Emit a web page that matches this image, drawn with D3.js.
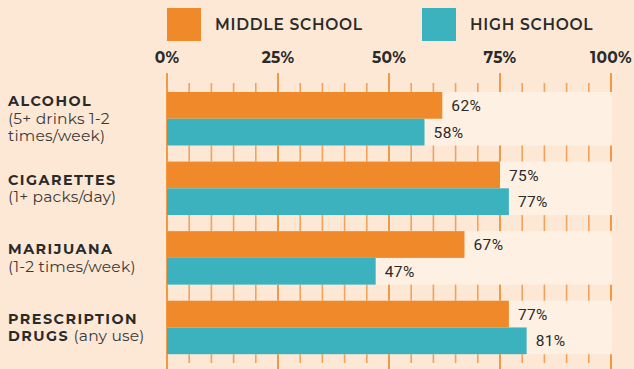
<!DOCTYPE html>
<html>
<head>
<meta charset="utf-8">
<script src="https://cdn.jsdelivr.net/npm/d3@7"></script>
<style>
  html, body { margin: 0; padding: 0; background: #FDE8D6; }
  svg { display: block; }
</style>
</head>
<body>
<svg id="chart" width="634" height="369"></svg>
<script>
// Substances surveyed and the share of students who perceive great risk.
const categories = ["alcohol", "cigarettes", "marijuana", "prescription"];
const categoryLines = [
  [[["ALCOHOL", true]], [["(5+ drinks 1-2", false]], [["times/week)", false]]],
  [[["CIGARETTES", true]], [["(1+ packs/day)", false]]],
  [[["MARIJUANA", true]], [["(1-2 times/week)", false]]],
  [[["PRESCRIPTION", true]], [["DRUGS", true], [" (any use)", false]]]
];
const seriesNames = ["MIDDLE SCHOOL", "HIGH SCHOOL"];
const middleSchool = [62, 75, 67, 77];
const highSchool = [58, 77, 47, 81];
const axisTicks = [0, 25, 50, 75, 100];
const gridTicks = d3.range(0, 101, 5);

const colors = { "MIDDLE SCHOOL": "#F0892A", "HIGH SCHOOL": "#3DB2BF" };
const ink = "#2A2A2A";
const labelFont = "Montserrat, 'Open Sans', 'DejaVu Sans', sans-serif";
const valueFont = "Roboto, 'DejaVu Sans', sans-serif";

const svg = d3.select("#chart");

const x = d3.scaleLinear().domain([0, 100]).range([167, 611]);
const y = d3.scaleBand().domain(categories).range([92, 354.2]).paddingInner(0.231).paddingOuter(0);
const ySub = d3.scaleBand().domain(seriesNames).range([0, y.bandwidth()]);

// Legend
const legend = svg.append("g");
const legendX = [167, 422];
seriesNames.forEach((name, i) => {
  legend.append("rect")
    .attr("x", legendX[i]).attr("y", 8)
    .attr("width", 34).attr("height", 33)
    .attr("fill", colors[name]);
  legend.append("text")
    .attr("x", legendX[i] + 48).attr("y", 29.5)
    .attr("font-family", labelFont).attr("font-size", 15.5)
    .attr("font-weight", 600).attr("letter-spacing", 0.75)
    .attr("fill", ink)
    .text(name);
});

// Axis labels along the top
svg.append("g").selectAll("text").data(axisTicks).join("text")
  .attr("x", d => x(d)).attr("y", 62.5)
  .attr("text-anchor", "middle")
  .attr("font-family", labelFont).attr("font-size", 15.5)
  .attr("font-weight", 700).attr("letter-spacing", 0.3).attr("fill", ink)
  .text(d => d + "%");

// Vertical grid: long lines at quarters, short ones every 5%
const grid = svg.append("g");
grid.selectAll("line").data(gridTicks).join("line")
  .attr("x1", d => x(d)).attr("x2", d => x(d))
  .attr("y1", d => d % 25 === 0 ? 73 : 83)
  .attr("y2", d => d % 25 === 0 ? 369 : 363)
  .attr("stroke", d => d % 25 === 0 ? "#EE8424" : "#F3A25C")
  .attr("stroke-width", 1.6);

// Light track behind each pair of bars
svg.append("g").selectAll("rect").data(categories).join("rect")
  .attr("x", x(0)).attr("y", d => y(d))
  .attr("width", x(100) - x(0) + 1).attr("height", y.bandwidth())
  .attr("fill", "#FEF0E2");

const rows = categories.map((c, i) => ({
  cat: c,
  values: [
    { series: seriesNames[0], value: middleSchool[i] },
    { series: seriesNames[1], value: highSchool[i] }
  ]
}));

const groups = svg.append("g").selectAll("g").data(rows).join("g")
  .attr("transform", d => `translate(0,${y(d.cat)})`);

groups.selectAll("rect").data(d => d.values).join("rect")
  .attr("x", x(0))
  .attr("y", d => ySub(d.series))
  .attr("width", d => x(d.value) - x(0))
  .attr("height", ySub.bandwidth())
  .attr("fill", d => colors[d.series]);

groups.selectAll("text").data(d => d.values).join("text")
  .attr("x", d => x(d.value) + 9)
  .attr("y", d => ySub(d.series) + ySub.bandwidth() / 2)
  .attr("dy", "0.36em")
  .attr("font-family", valueFont).attr("font-size", 15.5)
  .attr("letter-spacing", 0.4)
  .attr("fill", ink)
  .text(d => d.value + "%");

// Category labels, centred on their group
const lineHeight = 17.5;
categories.forEach((c, i) => {
  const lines = categoryLines[i];
  const mid = y(c) + y.bandwidth() / 2;
  const t = svg.append("text")
    .attr("font-family", labelFont)
    .attr("fill", ink);
  lines.forEach((segs, j) => {
    const base = mid + (j - (lines.length - 1) / 2) * lineHeight + 5;
    segs.forEach((seg, k) => {
      const ts = t.append("tspan").text(seg[0])
        .attr("font-size", seg[1] ? 14.3 : 15.5)
        .attr("font-weight", seg[1] ? 700 : 400)
        .attr("letter-spacing", seg[1] ? 1.5 : 0.2)
        .attr("fill", seg[1] ? ink : "#3A3A3A");
      if (k === 0) ts.attr("x", 8).attr("y", base);
    });
  });
});
</script>
</body>
</html>
